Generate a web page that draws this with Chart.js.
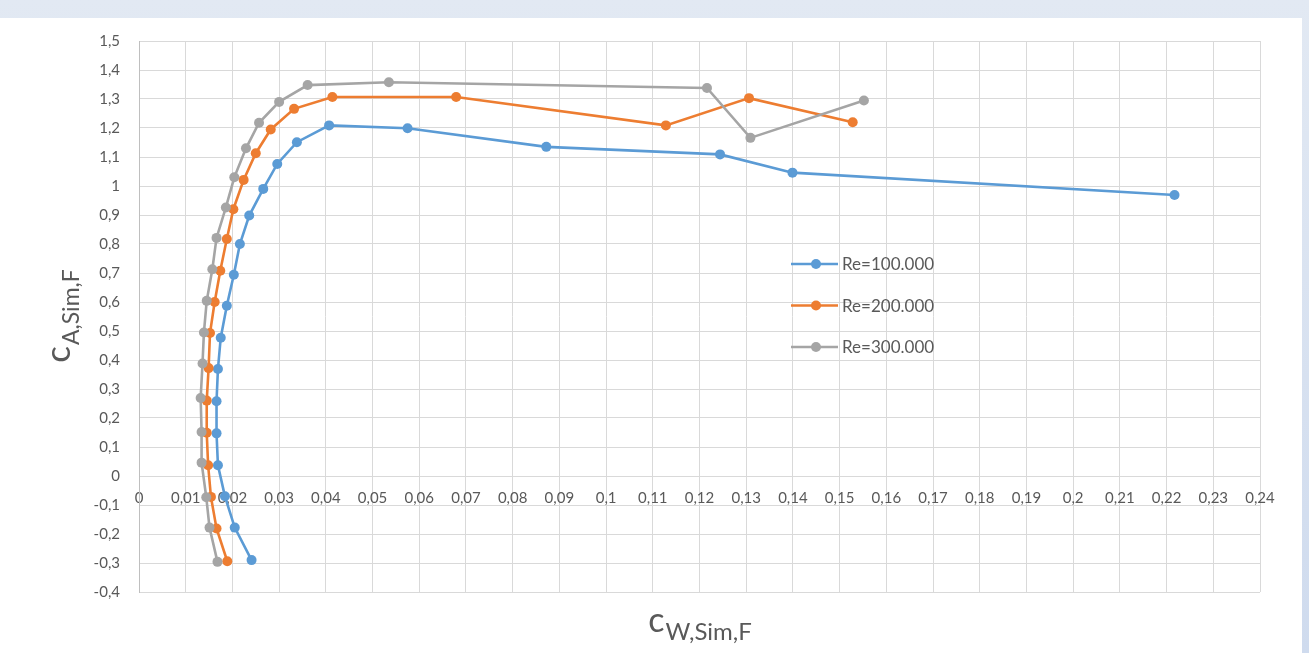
<!DOCTYPE html>
<html>
<head>
<meta charset="utf-8">
<script src="https://cdn.jsdelivr.net/npm/chart.js@4.4.0/dist/chart.umd.min.js"></script>
<style>
  html, body { margin: 0; padding: 0; }
  body {
    width: 1309px; height: 653px; overflow: hidden; position: relative;
    background: linear-gradient(#e2e9f3, #cfdbee);
  }
  #panel { position: absolute; left: 0; top: 18px; width: 1302px; height: 635px; background: #ffffff; }
  canvas { display: block; }
</style>
</head>
<body>
<div id="panel"><canvas id="polar" width="1302" height="635"></canvas></div>
<script>
// Drag coefficient (x) and lift coefficient (y) along the angle-of-attack sweep
const seriesNames = ['Re=100.000', 'Re=200.000', 'Re=300.000'];

const cw100 = [0.0241, 0.0205, 0.0184, 0.0169, 0.0166, 0.0166, 0.0169, 0.0175, 0.0188, 0.0203, 0.0216,
               0.0236, 0.0266, 0.0296, 0.0338, 0.0407, 0.0575, 0.0872, 0.1244, 0.1399, 0.2217];
const ca100 = [-0.290, -0.178, -0.070, 0.037, 0.147, 0.258, 0.369, 0.477, 0.587, 0.694, 0.800,
               0.898, 0.990, 1.076, 1.151, 1.209, 1.199, 1.135, 1.109, 1.046, 0.969];

const cw200 = [0.0189, 0.0166, 0.0154, 0.0148, 0.0145, 0.0145, 0.0149, 0.0152, 0.0162, 0.0174, 0.0188,
               0.0202, 0.0224, 0.0250, 0.0282, 0.0332, 0.0414, 0.0679, 0.1128, 0.1306, 0.1528];
const ca200 = [-0.294, -0.181, -0.072, 0.037, 0.149, 0.260, 0.372, 0.493, 0.600, 0.708, 0.817,
               0.920, 1.021, 1.113, 1.195, 1.266, 1.307, 1.307, 1.209, 1.303, 1.220];

const cw300 = [0.0168, 0.0151, 0.0144, 0.0134, 0.0134, 0.0132, 0.0136, 0.0139, 0.0145, 0.0157, 0.0166,
               0.0186, 0.0204, 0.0229, 0.0257, 0.0300, 0.0361, 0.0535, 0.1216, 0.1309, 0.1552];
const ca300 = [-0.296, -0.178, -0.073, 0.046, 0.152, 0.269, 0.388, 0.495, 0.604, 0.713, 0.821,
               0.926, 1.030, 1.130, 1.218, 1.290, 1.348, 1.358, 1.338, 1.166, 1.295];

const xTickValues = [0, 0.01, 0.02, 0.03, 0.04, 0.05, 0.06, 0.07, 0.08, 0.09, 0.1, 0.11, 0.12,
                     0.13, 0.14, 0.15, 0.16, 0.17, 0.18, 0.19, 0.2, 0.21, 0.22, 0.23, 0.24];
const yTickValues = [-0.4, -0.3, -0.2, -0.1, 0, 0.1, 0.2, 0.3, 0.4, 0.5, 0.6, 0.7, 0.8, 0.9,
                     1, 1.1, 1.2, 1.3, 1.4, 1.5];

const xTitle = { base: 'c', sub: 'W,Sim,F' };
const yTitle = { base: 'c', sub: 'A,Sim,F' };

const colors = ['#5b9bd5', '#ed7d31', '#a5a5a5'];
const TEXT = '#595959';
const FONT = 'Lato, "Open Sans", sans-serif';

function pairs(xs, ys) { return xs.map((x, i) => ({ x: x, y: ys[i] })); }
function decimalComma(v) { return String(Number(v.toFixed(3))).replace('.', ','); }
// keep the plot frame exactly where the layout padding puts it
function noEdgePadding(s) { s.paddingTop = 0; s.paddingBottom = 0; s.paddingLeft = 0; s.paddingRight = 0; }

const seriesData = [pairs(cw100, ca100), pairs(cw200, ca200), pairs(cw300, ca300)];

const datasets = seriesData.map((d, i) => ({
  label: seriesNames[i],
  data: d,
  showLine: true,
  borderColor: colors[i],
  backgroundColor: colors[i],
  borderWidth: 2.6,
  pointRadius: 5,
  pointBorderWidth: 0,
  pointBackgroundColor: colors[i],
  tension: 0,
  order: 3 - i
}));

// base letter followed by a lowered, smaller subscript, centred on (0,0)
function drawSubscripted(ctx, t, baseSize, subSize, subDrop) {
  ctx.font = baseSize + 'px ' + FONT;
  const wb = ctx.measureText(t.base).width;
  ctx.font = subSize + 'px ' + FONT;
  const ws = ctx.measureText(t.sub).width;
  const start = -(wb + ws) / 2;
  ctx.textAlign = 'left';
  ctx.textBaseline = 'alphabetic';
  ctx.font = baseSize + 'px ' + FONT;
  ctx.fillText(t.base, start, 0);
  ctx.font = subSize + 'px ' + FONT;
  ctx.fillText(t.sub, start + wb + 1, subDrop);
}

const decorations = {
  id: 'decorations',
  afterDraw(chart) {
    const ctx = chart.ctx;
    const area = chart.chartArea;
    ctx.save();
    ctx.fillStyle = TEXT;

    // horizontal axis title
    ctx.save();
    ctx.translate((area.left + area.right) / 2, 614);
    drawSubscripted(ctx, xTitle, 34, 24, 8);
    ctx.restore();

    // vertical axis title
    ctx.save();
    ctx.translate(70, (area.top + area.bottom) / 2);
    ctx.rotate(-Math.PI / 2);
    drawSubscripted(ctx, yTitle, 35, 23, 9);
    ctx.restore();

    // legend inside the plot
    const lx = 791, ly = 246, gap = 41.5;
    chart.data.datasets.forEach((ds, i) => {
      const y = ly + i * gap;
      ctx.strokeStyle = ds.borderColor;
      ctx.lineWidth = 2.6;
      ctx.beginPath();
      ctx.moveTo(lx, y);
      ctx.lineTo(lx + 47, y);
      ctx.stroke();
      ctx.fillStyle = ds.borderColor;
      ctx.beginPath();
      ctx.arc(lx + 25, y, 5, 0, Math.PI * 2);
      ctx.fill();
      ctx.fillStyle = TEXT;
      ctx.font = '17px ' + FONT;
      ctx.textAlign = 'left';
      ctx.textBaseline = 'middle';
      ctx.fillText(ds.label, lx + 51, y + 1);
    });
    ctx.restore();
  }
};

new Chart(document.getElementById('polar'), {
  type: 'scatter',
  data: { datasets: datasets },
  plugins: [decorations],
  options: {
    responsive: false,
    animation: false,
    devicePixelRatio: 1,
    layout: { padding: { left: 0, top: 23, right: 42, bottom: 61 } },
    plugins: { legend: { display: false }, tooltip: { enabled: false } },
    scales: {
      x: {
        type: 'linear',
        position: { y: 0 },
        min: 0, max: 0.24,
        afterBuildTicks(s) { s.ticks = xTickValues.map(v => ({ value: v })); },
        afterFit: noEdgePadding,
        ticks: {
          autoSkip: false, maxRotation: 0, padding: 13,
          color: TEXT, font: { family: FONT, size: 15 },
          callback: v => decimalComma(v)
        },
        grid: { color: '#d9d9d9', lineWidth: 1, drawTicks: false },
        border: { color: '#d9d9d9', width: 1 }
      },
      y: {
        type: 'linear',
        position: 'left',
        min: -0.4, max: 1.5,
        afterBuildTicks(s) { s.ticks = yTickValues.map(v => ({ value: v })); },
        afterFit(s) { s.width = 139; noEdgePadding(s); },
        ticks: {
          autoSkip: false, padding: 19,
          color: TEXT, font: { family: FONT, size: 15 },
          callback: v => decimalComma(v)
        },
        grid: { color: '#d9d9d9', lineWidth: 1, drawTicks: false },
        border: { color: '#bfbfbf', width: 1 }
      }
    }
  }
});
</script>
</body>
</html>
